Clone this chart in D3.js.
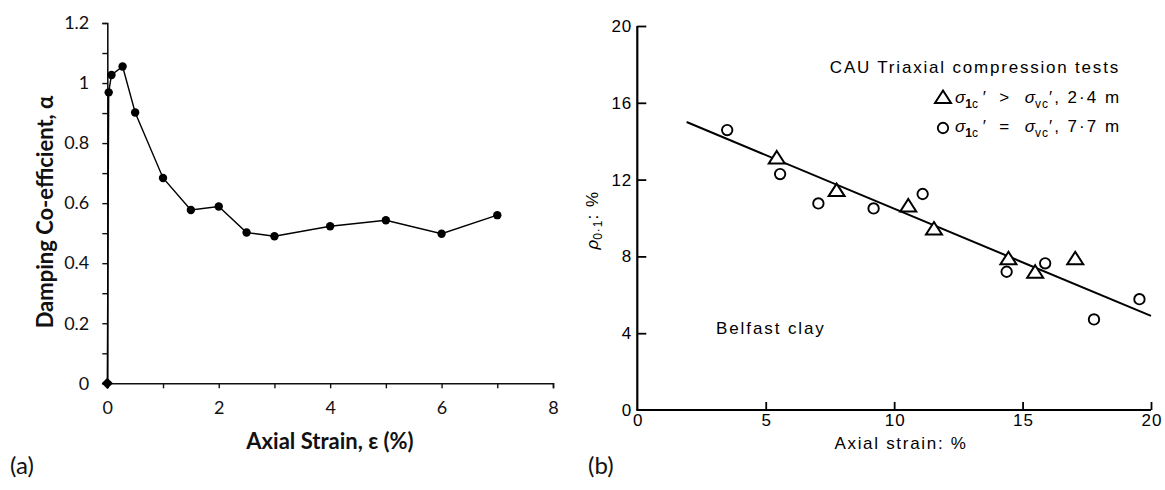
<!DOCTYPE html>
<html>
<head>
<meta charset="utf-8">
<script src="https://cdn.jsdelivr.net/npm/d3@7"></script>
<style>
  html, body { margin: 0; padding: 0; background: #fff; }
  svg { display: block; }
</style>
</head>
<body>
<svg id="chart" width="1165" height="490"></svg>
<script>
// ---- Panel (a): damping coefficient vs axial strain ----
const strainA = [0, 0.025, 0.075, 0.275, 0.5, 1, 1.5, 2, 2.5, 3, 4, 5, 6, 7];
const dampingA = [0, 0.969, 1.027, 1.055, 0.902, 0.684, 0.577, 0.589, 0.502, 0.49, 0.523, 0.543, 0.498, 0.56];
const xTicksA = [0, 2, 4, 6, 8];
const yTicksA = [0, 0.2, 0.4, 0.6, 0.8, 1, 1.2];

// ---- Panel (b): rho_0.1 vs axial strain, Belfast clay ----
const triStrain = [5.43, 7.76, 10.55, 11.55, 14.45, 15.49, 17.05];
const triRho = [13.1, 11.4, 10.6, 9.4, 7.85, 7.15, 7.85];
const circStrain = [3.5, 5.56, 7.05, 9.2, 11.11, 14.38, 15.88, 17.78, 19.55];
const circRho = [14.58, 12.29, 10.76, 10.5, 11.25, 7.2, 7.64, 4.72, 5.77];
const fitStrain = [1.92, 20];
const fitRho = [15.0, 4.9];
const xTicksB = [0, 5, 10, 15, 20];
const yTicksB = [0, 4, 8, 12, 16, 20];

const svg = d3.select("#chart");

// =================== Panel (a) ===================
const fa = "Lato, 'Open Sans', sans-serif";
const xA = d3.scaleLinear().domain([0, 8]).range([107.3, 553]);
const yA = d3.scaleLinear().domain([0, 1.2]).range([383.3, 23]);
const gA = svg.append("g");

// minor ticks
const minorY = [0.1, 0.3, 0.5, 0.7, 0.9, 1.1];
const minorX = [1, 3, 5, 7];

gA.append("g").attr("transform", `translate(0,${yA(0)})`)
  .call(d3.axisBottom(xA).tickValues(xTicksA).tickSize(5).tickPadding(13).tickFormat(d3.format("d")));
gA.append("g").attr("transform", `translate(0,${yA(0)})`)
  .call(d3.axisBottom(xA).tickValues(minorX).tickSize(5).tickFormat(""))
  .call(g => g.select(".domain").remove());
gA.append("g").attr("transform", `translate(${xA(0)},0)`)
  .call(d3.axisLeft(yA).tickValues(yTicksA).tickSize(5).tickPadding(13).tickFormat(d => String(+d.toFixed(1))));
gA.append("g").attr("transform", `translate(${xA(0)},0)`)
  .call(d3.axisLeft(yA).tickValues(minorY).tickSize(5).tickFormat(""))
  .call(g => g.select(".domain").remove());

gA.selectAll(".domain").attr("stroke", "#111").attr("stroke-width", 1.6);
gA.selectAll(".tick line").attr("stroke", "#111").attr("stroke-width", 1.4);
gA.selectAll(".tick text").attr("font-family", fa).attr("font-size", 18).attr("fill", "#111");

const ptsA = strainA.map((s, i) => [s, dampingA[i]]);
gA.append("path").datum(ptsA)
  .attr("fill", "none").attr("stroke", "#000").attr("stroke-width", 1.4)
  .attr("d", d3.line().x(d => xA(d[0])).y(d => yA(d[1])));
gA.selectAll("circle.pa").data(ptsA.slice(1)).join("circle")
  .attr("class", "pa").attr("cx", d => xA(d[0])).attr("cy", d => yA(d[1])).attr("r", 4.2).attr("fill", "#000");
gA.selectAll("path.dia").data(ptsA.slice(0, 1)).join("path")
  .attr("class", "dia")
  .attr("transform", d => `translate(${xA(d[0])},${yA(d[1])})`)
  .attr("d", d3.symbol(d3.symbolDiamond2, 80)).attr("fill", "#000");

gA.append("text").attr("x", 330).attr("y", 449).attr("text-anchor", "middle")
  .attr("font-family", fa).attr("font-weight", "bold").attr("font-size", 22).attr("fill", "#111")
  .text("Axial Strain, ε (%)");
gA.append("text").attr("transform", "translate(53,212) rotate(-90)").attr("text-anchor", "middle")
  .attr("font-family", fa).attr("font-weight", "bold").attr("font-size", 22).attr("fill", "#111")
  .text("Damping Co-efficient, α");
gA.append("text").attr("x", 10).attr("y", 474)
  .attr("font-family", fa).attr("font-size", 24).attr("fill", "#111").text("(a)");

// =================== Panel (b) ===================
const fb = "'Liberation Sans', Arial, sans-serif";
const xB = d3.scaleLinear().domain([0, 20]).range([637.3, 1151]);
const yB = d3.scaleLinear().domain([0, 20]).range([410, 26]);
const gB = svg.append("g");

gB.append("g").attr("transform", `translate(0,${yB(0)})`)
  .call(d3.axisTop(xB).tickValues(xTicksB.slice(1)).tickSize(8).tickFormat(""))
  .call(g => g.selectAll(".tick line").attr("stroke", "#000").attr("stroke-width", 1.8));
gB.append("g").attr("transform", `translate(${xB(0)},0)`)
  .call(d3.axisRight(yB).tickValues(yTicksB.slice(1)).tickSize(9).tickFormat(""))
  .call(g => g.selectAll(".tick line").attr("stroke", "#000").attr("stroke-width", 1.8));
gB.selectAll(".domain").remove();

// axis lines
gB.append("line").attr("x1", xB(0)).attr("x2", xB(0)).attr("y1", yB(20)).attr("y2", yB(0))
  .attr("stroke", "#000").attr("stroke-width", 2.2);
gB.append("line").attr("x1", xB(0) - 1).attr("x2", xB(20)).attr("y1", yB(0)).attr("y2", yB(0))
  .attr("stroke", "#000").attr("stroke-width", 2);

// tick labels
gB.selectAll("text.xl").data(xTicksB).join("text").attr("class", "xl")
  .attr("x", d => xB(d) + 1).attr("y", yB(0) + 16).attr("text-anchor", "middle")
  .attr("font-family", fb).attr("font-size", 17).attr("letter-spacing", 1).attr("fill", "#000").text(d => d);
gB.selectAll("text.yl").data(yTicksB).join("text").attr("class", "yl")
  .attr("x", xB(0) - 5).attr("y", d => yB(d) + 6).attr("text-anchor", "end")
  .attr("font-family", fb).attr("font-size", 17).attr("letter-spacing", 1).attr("fill", "#000").text(d => d);

// fit line
gB.append("path").datum(fitStrain.map((s, i) => [s, fitRho[i]]))
  .attr("fill", "none").attr("stroke", "#000").attr("stroke-width", 2)
  .attr("d", d3.line().x(d => xB(d[0])).y(d => yB(d[1])));

// circles
gB.selectAll("circle.cb").data(circStrain.map((s, i) => [s, circRho[i]])).join("circle")
  .attr("class", "cb").attr("cx", d => xB(d[0])).attr("cy", d => yB(d[1])).attr("r", 5.2)
  .attr("fill", "#fff").attr("stroke", "#000").attr("stroke-width", 1.9);
// triangles
const triPath = "M0,-7.5 L8,5 L-8,5 Z";
gB.selectAll("path.tb").data(triStrain.map((s, i) => [s, triRho[i]])).join("path")
  .attr("class", "tb").attr("transform", d => `translate(${xB(d[0])},${yB(d[1])})`)
  .attr("d", triPath).attr("fill", "#fff").attr("stroke", "#000").attr("stroke-width", 2).attr("stroke-linejoin", "miter");

// labels
gB.append("text").attr("x", 901).attr("y", 449).attr("text-anchor", "middle")
  .attr("font-family", fb).attr("font-size", 17).attr("letter-spacing", 1.7).attr("fill", "#000")
  .text("Axial strain: %");
gB.append("text").attr("x", 716).attr("y", 334)
  .attr("font-family", fb).attr("font-size", 17).attr("letter-spacing", 1.9).attr("fill", "#000")
  .text("Belfast clay");

const yLab = gB.append("text").attr("transform", "translate(598,220) rotate(-90)").attr("text-anchor", "middle")
  .attr("font-family", fb).attr("font-size", 17).attr("fill", "#000");
yLab.append("tspan").attr("font-style", "italic").text("ρ");
yLab.append("tspan").attr("font-size", 12).attr("dy", 4).attr("letter-spacing", 1).text("0·1");
yLab.append("tspan").attr("dy", -4).attr("letter-spacing", 1.5).text(": %");

gB.append("text").attr("x", 1120).attr("y", 72.7).attr("text-anchor", "end")
  .attr("font-family", fb).attr("font-size", 17).attr("letter-spacing", 1.8).attr("fill", "#000")
  .text("CAU Triaxial compression tests");

// legend entries
const legendRows = [
  { sym: "tri", rel: "  >  ", depth: "2·4 m", y: 103 },
  { sym: "circ", rel: "  =  ", depth: "7·7 m", y: 132 }
];
legendRows.forEach(r => {
  if (r.sym === "tri") {
    gB.append("path").attr("transform", `translate(943,${r.y - 5})`).attr("d", triPath)
      .attr("fill", "#fff").attr("stroke", "#000").attr("stroke-width", 2);
  } else {
    gB.append("circle").attr("cx", 943).attr("cy", r.y - 4).attr("r", 5.2)
      .attr("fill", "#fff").attr("stroke", "#000").attr("stroke-width", 1.9);
  }
  const t = gB.append("text").attr("x", 955).attr("y", r.y)
    .attr("font-family", fb).attr("font-size", 17).attr("fill", "#000").attr("xml:space", "preserve");
  t.append("tspan").attr("font-style", "italic").text("σ");
  t.append("tspan").attr("font-size", 12).attr("dy", 5).attr("font-weight", "bold").text("1");
  t.append("tspan").attr("font-size", 12).text("c");
  t.append("tspan").attr("dy", -5).text(" ′");
  t.append("tspan").attr("letter-spacing", 2).text(r.rel);
  t.append("tspan").attr("font-style", "italic").text("σ");
  t.append("tspan").attr("font-size", 12).attr("dy", 5).attr("letter-spacing", 1).text("vc");
  t.append("tspan").attr("dy", -5).attr("letter-spacing", 2).text("′, " + r.depth);
});

gB.append("text").attr("x", 588).attr("y", 474)
  .attr("font-family", fa).attr("font-size", 24).attr("fill", "#111").text("(b)");
</script>
</body>
</html>
